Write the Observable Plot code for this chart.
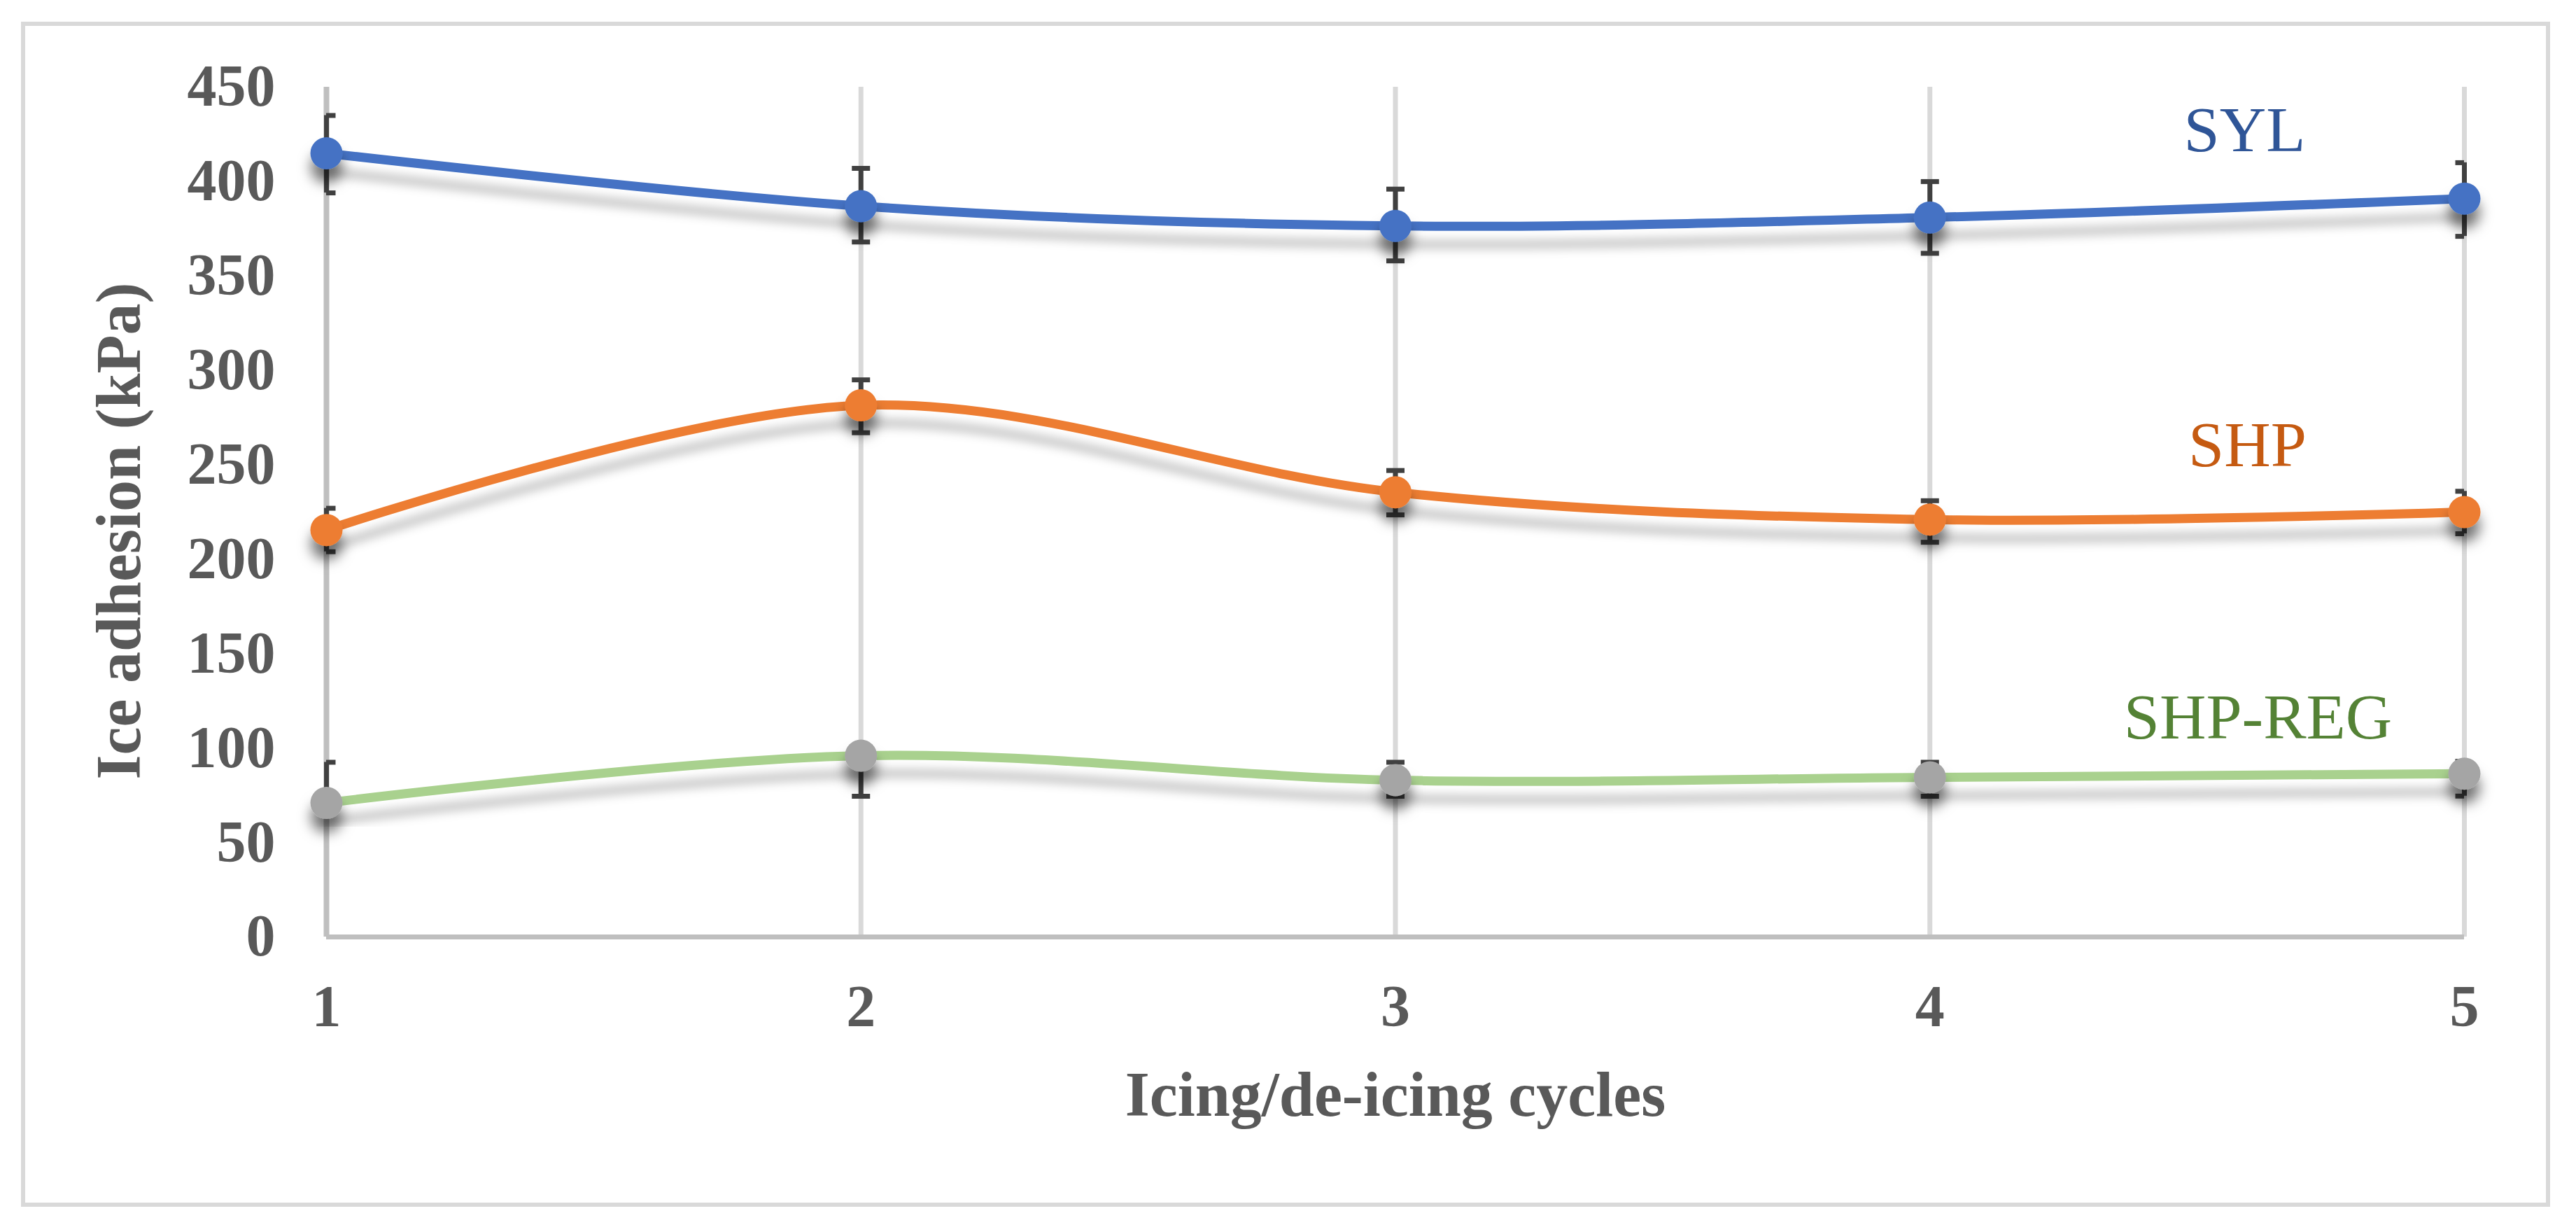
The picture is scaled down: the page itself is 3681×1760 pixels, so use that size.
<!DOCTYPE html>
<html>
<head>
<meta charset="utf-8">
<script src="https://cdn.jsdelivr.net/npm/d3@7"></script>
<script src="https://cdn.jsdelivr.net/npm/@observablehq/plot@0.6"></script>
<style>
html, body { margin: 0; padding: 0; background: #fff; overflow: hidden; }
#wrap { position: relative; width: 3681px; height: 1760px; }
#border { position: absolute; left: 30px; top: 31px; width: 3602px; height: 1681px; border: 6px solid #d9d9d9; pointer-events: none; }
</style>
</head>
<body>
<div id="wrap"><div id="border"></div></div>
<script>
// ---- data ----
const cycles = [1, 2, 3, 4, 5];
const seriesNames = ["SYL", "SHP", "SHP-REG"];

const sylMean = [415, 387, 376.5, 381, 391];
const sylLow  = [394, 368, 358, 362, 371];
const sylHigh = [435, 407, 396, 400, 410];

const shpMean = [215.5, 281.5, 235.5, 221, 225];
const shpLow  = [204, 267, 223.5, 209, 213.5];
const shpHigh = [227, 295, 247, 231, 236];

const regMean = [71, 96, 83, 84.5, 86.5];
const regLow  = [71, 74.5, 74.5, 74.5, 74.6];
const regHigh = [92.5, 96, 92.5, 92.5, 93];

const yTicks = [0, 50, 100, 150, 200, 250, 300, 350, 400, 450];
const xLabel = "Icing/de-icing cycles";
const yLabel = "Ice adhesion (kPa)";

// ---- styling ----
const lineColors   = ["#4472c4", "#ed7d31", "#a9d18e"];
const markerColors = ["#4472c4", "#ed7d31", "#a5a5a5"];
const labelColors  = ["#2f5597", "#c55a11", "#548235"];
const labelOffsets = [[-314, -97], [-310, -95], [-295, -80]];

const means = [sylMean, shpMean, regMean];
const lows  = [sylLow, shpLow, regLow];
const highs = [sylHigh, shpHigh, regHigh];

const tables = seriesNames.map((name, s) =>
  cycles.map((c, i) => ({series: name, x: c, y: means[s][i], low: lows[s][i], high: highs[s][i]}))
);

const capSymbol = {
  draw(ctx, size) {
    const w = Math.sqrt(size / Math.PI);
    ctx.moveTo(-w, 0);
    ctx.lineTo(w, 0);
  }
};

const FONT = "'Liberation Serif', 'Times New Roman', serif";
const GREY = "#595959";

const marks = [];
// grid & axis lines
marks.push(Plot.gridX(cycles, {stroke: "#d9d9d9", strokeOpacity: 1, strokeWidth: 7}));
marks.push(Plot.ruleX([cycles[0]], {stroke: "#bfbfbf", strokeWidth: 8}));
marks.push(Plot.ruleY([0], {stroke: "#bfbfbf", strokeWidth: 7}));

// lines
tables.forEach((t, s) => {
  marks.push(Plot.line(t, {x: "x", y: "y", curve: "cardinal", stroke: lineColors[s], strokeWidth: 13}));
});
// error bars
tables.forEach((t, s) => {
  marks.push(Plot.ruleX(t, {x: "x", y1: "low", y2: "high", stroke: "#404040", strokeWidth: 7}));
  marks.push(Plot.dot(t.filter(d => d.low < d.y), {x: "x", y: "low", symbol: capSymbol, r: 13, fill: "none", stroke: "#404040", strokeWidth: 7, clip: true}));
  marks.push(Plot.dot(t.filter(d => d.high > d.y), {x: "x", y: "high", symbol: capSymbol, r: 13, fill: "none", stroke: "#404040", strokeWidth: 7, clip: true}));
});
// markers
tables.forEach((t, s) => {
  marks.push(Plot.dot(t, {x: "x", y: "y", r: 23, fill: markerColors[s], stroke: "none"}));
});
// series labels
tables.forEach((t, s) => {
  marks.push(Plot.text(t, Plot.selectLast({
    x: "x", y: "y", text: "series", fill: labelColors[s],
    fontSize: 92, fontWeight: "normal", textAnchor: "middle", lineAnchor: "middle",
    dx: labelOffsets[s][0], dy: labelOffsets[s][1]
  })));
});
// axes
marks.push(Plot.axisY({ticks: yTicks, tickSize: 0, tickPadding: 73, label: null, fontSize: 84, fontWeight: "bold", color: GREY}));
marks.push(Plot.axisX({ticks: cycles, tickSize: 0, tickPadding: 68, tickFormat: d => String(d), label: null, fontSize: 84, fontWeight: "bold", color: GREY}));
// axis titles
marks.push(Plot.text([yLabel], {text: d => d, frameAnchor: "left", rotate: -90, dx: -295, dy: 27, fontSize: 90, fontWeight: "bold", fill: GREY, textAnchor: "middle", lineAnchor: "middle"}));
marks.push(Plot.text([xLabel], {text: d => d, frameAnchor: "bottom", dy: 227, fontSize: 90, fontWeight: "bold", fill: GREY, textAnchor: "middle", lineAnchor: "middle"}));

const chart = Plot.plot({
  width: 3681,
  height: 1760,
  marginLeft: 466,
  marginRight: 160,
  marginTop: 124,
  marginBottom: 422,
  x: {domain: [1, 5]},
  y: {domain: [0, 450]},
  style: {fontFamily: FONT, fontSize: "84px", fontWeight: "bold", color: GREY, background: "transparent", overflow: "visible"},
  marks
});

// drop shadows (Excel-style)
const svg = d3.select(chart);
const defs = svg.insert("defs", ":first-child");
defs.append("filter").attr("id", "lineShadow")
  .attr("x", "-5%").attr("y", "-30%").attr("width", "110%").attr("height", "180%")
  .append("feDropShadow").attr("dx", 0).attr("dy", 26).attr("stdDeviation", 7)
  .attr("flood-color", "#000").attr("flood-opacity", 0.22);
defs.append("filter").attr("id", "dotShadow")
  .attr("x", "-30%").attr("y", "-30%").attr("width", "160%").attr("height", "200%")
  .append("feDropShadow").attr("dx", 0).attr("dy", 20).attr("stdDeviation", 9)
  .attr("flood-color", "#000").attr("flood-opacity", 0.5);
svg.selectAll('g[aria-label="line"]').attr("filter", "url(#lineShadow)");
const dotGroups = svg.selectAll('g[aria-label="dot"]').nodes();
dotGroups.slice(-3).forEach(g => d3.select(g).attr("filter", "url(#dotShadow)"));

chart.style.position = "absolute";
chart.style.left = "0";
chart.style.top = "0";
document.getElementById("wrap").appendChild(chart);
</script>
</body>
</html>
